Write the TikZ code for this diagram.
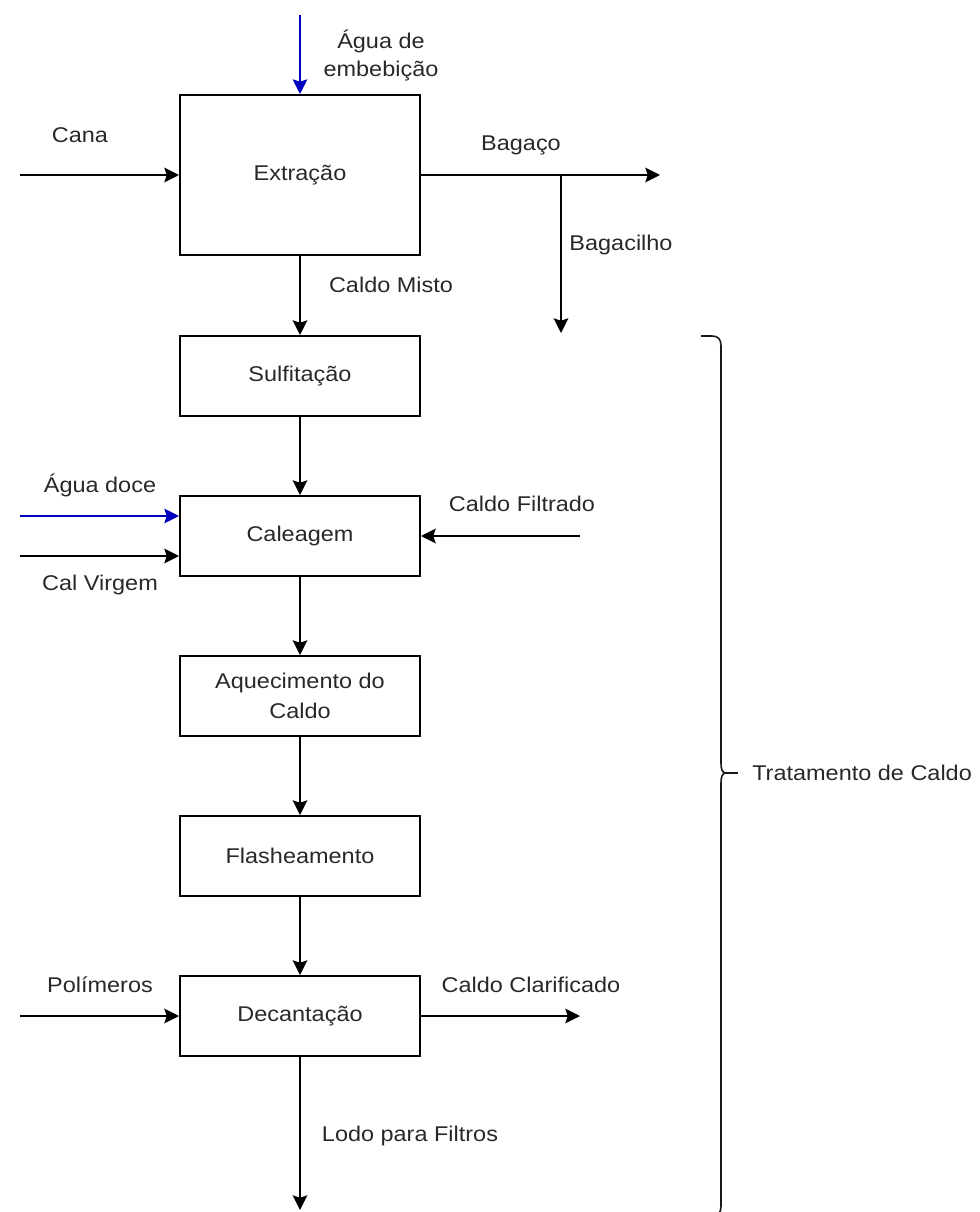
\documentclass[tikz,border=0pt]{standalone}
\usepackage{fontspec}
\setmainfont[FakeStretch=1.1]{Liberation Sans}
\usetikzlibrary{arrows.meta}
\definecolor{txt}{RGB}{40,40,40}
\definecolor{flowblue}{RGB}{0,0,190}
\begin{document}
\begin{tikzpicture}[x=0.75pt,y=-0.75pt,
  box/.style={draw=black, line width=1.5pt, minimum width=180pt, minimum height=60pt,
    inner sep=0pt, text=txt, font=\fontsize{16}{22}\selectfont, align=center},
  lbl/.style={text=txt, font=\fontsize{16}{21}\selectfont, align=center, inner sep=0pt},
  arr/.style={draw=black, line width=1.5pt, -{Stealth[length=11pt,width=11pt,inset=1.8pt]}},
  bluearr/.style={arr, draw=flowblue, fill=flowblue, line width=1.2pt},
  bracepath/.style={draw=black!90, line width=1.2pt}]
\useasboundingbox (0,0) rectangle (979,1212);
\clip (0,0) rectangle (979,1212);

% process boxes
\node[box, minimum height=120pt] (ext) at (300,175) {Extração};
\node[box] (sulf) at (300,376) {Sulfitação};
\node[box] (cal) at (300,536) {Caleagem};
\node[box] (aq) at (300,696) {Aquecimento do\\Caldo};
\node[box] (fl) at (300,856) {Flasheamento};
\node[box] (dec) at (300,1016) {Decantação};

% labels
\node[lbl] (lagua) at (381,56) {Água de\\embebição};
\node[lbl] (lcana) at (80,135) {Cana};
\node[lbl] (lbagaco) at (521,145) {Bagaço};
\node[lbl] (lbagacilho) at (621,245) {Bagacilho};
\node[lbl] (lmisto) at (391,285) {Caldo Misto};
\node[lbl] (ldoce) at (100,485) {Água doce};
\node[lbl] (lvirgem) at (100,585) {Cal Virgem};
\node[lbl] (lfiltrado) at (522,504) {Caldo Filtrado};
\node[lbl] (lpoli) at (100,985) {Polímeros};
\node[lbl] (lclar) at (531,985) {Caldo Clarificado};
\node[lbl] (llodo) at (410,1136) {Lodo para Filtros};
\node[lbl, anchor=west] (ltrat) at (752,773) {Tratamento de Caldo};

% free ends
\coordinate (aguaTop) at (300,15);
\coordinate (canaIn) at (20,175);
\coordinate (bagOut) at (660,175);
\coordinate (bagJ) at (561,175);
\coordinate (bagcEnd) at (561,333);
\coordinate (lodoEnd) at (300,1210);
\coordinate (doceIn) at (20,516);
\coordinate (virgemIn) at (20,556);
\coordinate (filtIn) at (580,536);
\coordinate (poliIn) at (20,1016);
\coordinate (clarOut) at (580,1016);
\coordinate (braceTip) at (726,773);

% connectors
\draw[bluearr] (aguaTop) -- (ext.north);
\draw[arr] (canaIn) -- (ext.west);
\draw[arr] (ext.east) -- (bagOut);
\draw[arr] (bagJ) -- (bagcEnd);
\draw[arr] (ext) -- (sulf);
\draw[arr] (sulf) -- (cal);
\draw[arr] (cal) -- (aq);
\draw[arr] (aq) -- (fl);
\draw[arr] (fl) -- (dec);
\draw[arr] (dec) -- (lodoEnd);
\draw[bluearr] (doceIn) -- (doceIn -| cal.west);
\draw[arr] (virgemIn) -- (virgemIn -| cal.west);
\draw[arr] (filtIn) -- (cal.east);
\draw[arr] (poliIn) -- (dec.west);
\draw[arr] (dec.east) -- (clarOut);

% brace (lower hook runs off the bottom edge)
\draw[bracepath] (701,336) -- (712,336) .. controls (718,336) and (721,339) .. (721,346)
  -- (721,763) .. controls (721,769) and (722,773) .. (braceTip)
  .. controls (722,773) and (721,777) .. (721,783)
  -- (721,1206) .. controls (721,1213) and (718,1216) .. (712,1216) -- (701,1216);
\draw[bracepath] (braceTip) -- ++(12,0);
\end{tikzpicture}
\end{document}
